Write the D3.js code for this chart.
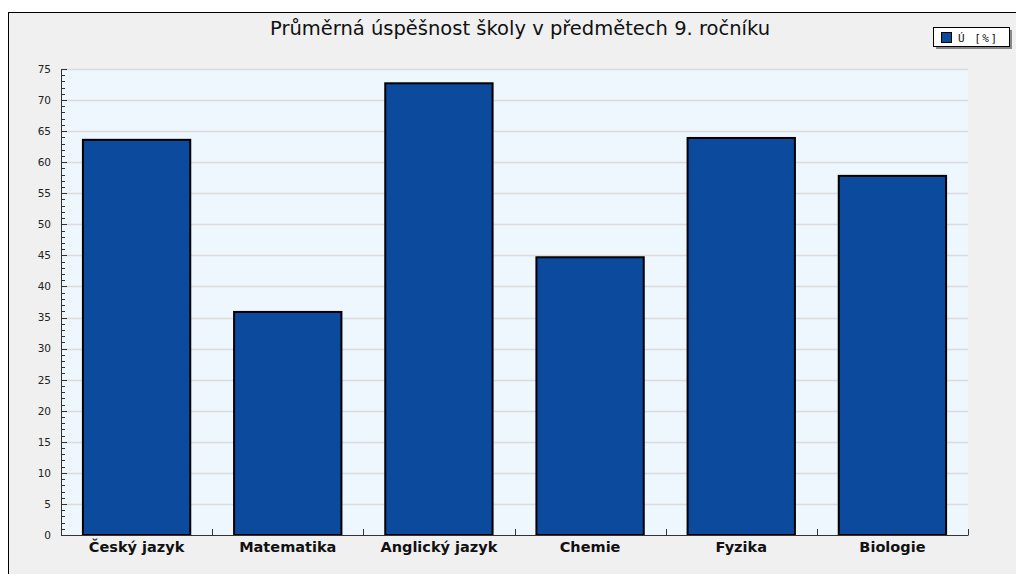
<!DOCTYPE html>
<html lang="cs">
<head>
    <meta charset="UTF-8">
    <title>Průměrná úspěšnost</title>
    <script src="https://d3js.org/d3.v7.min.js"></script>
    <style>
        body { margin: 0; background: #fff; }
    </style>
</head>
<body>
    <svg width="1016" height="574"></svg>
    <script type="text/javascript">

        // data
        var subjects = ["Český jazyk", "Matematika", "Anglický jazyk", "Chemie", "Fyzika", "Biologie"];
        var values = [63.6, 35.9, 72.7, 44.7, 63.9, 57.8];
        var yTicks = [0, 5, 10, 15, 20, 25, 30, 35, 40, 45, 50, 55, 60, 65, 70, 75];
        var seriesName = "Ú [%]";
        var chartTitle = "Průměrná úspěšnost školy v předmětech 9. ročníku";

        var margin = {top: 69, left: 61};
        var width = 907;
        var height = 466;

        var svg = d3.select("svg");

        // outer frame
        svg.append("rect")
            .attr("x", 8.5).attr("y", 12.5)
            .attr("width", 1020).attr("height", 570)
            .attr("fill", "#f0f0f0")
            .attr("stroke", "#000");

        svg.append("text")
            .attr("x", 520).attr("y", 35)
            .attr("text-anchor", "middle")
            .attr("font-family", "DejaVu Sans, Verdana, sans-serif")
            .attr("font-size", "19.5px")
            .attr("fill", "#111")
            .text(chartTitle);

        var g = svg.append("g")
            .attr("transform", "translate(" + margin.left + "," + margin.top + ")");

        var x = d3.scaleBand()
            .domain(subjects)
            .range([0, width])
            .paddingInner(0.29)
            .paddingOuter(0.145);

        var y = d3.scaleLinear()
            .domain([0, 75])
            .range([height, 0]);

        // plot background
        g.append("rect")
            .attr("width", width).attr("height", height)
            .attr("fill", "#eef6fe");

        // grid
        g.selectAll(".grid")
            .data(yTicks.slice(1))
            .enter().append("line")
            .attr("x1", 0).attr("x2", width)
            .attr("y1", function(d) { return Math.round(y(d)) + 0.5; })
            .attr("y2", function(d) { return Math.round(y(d)) + 0.5; })
            .attr("stroke", "#dcdcdc")
            .attr("stroke-width", 1.5);

        // bars
        g.selectAll(".bar")
            .data(values)
            .enter().append("rect")
            .attr("x", function(d, i) { return x(subjects[i]); })
            .attr("width", x.bandwidth())
            .attr("y", function(d) { return y(d); })
            .attr("height", function(d) { return height - y(d); })
            .attr("fill", "#0b4a9c")
            .attr("stroke", "#000")
            .attr("stroke-width", 2);

        // y axis, ticks pointing inside
        var minor = d3.range(0, 76, 1);
        g.selectAll(".minor")
            .data(minor)
            .enter().append("line")
            .attr("x1", 0)
            .attr("x2", function(d) { return d % 5 === 0 ? 6 : 4; })
            .attr("y1", function(d) { return Math.round(y(d)) + 0.5; })
            .attr("y2", function(d) { return Math.round(y(d)) + 0.5; })
            .attr("stroke", "#333");

        var yAxis = g.append("g")
            .call(d3.axisLeft(y).tickValues(yTicks).tickSize(0).tickPadding(10));
        yAxis.select(".domain").attr("stroke", "#333");
        yAxis.selectAll("text")
            .attr("font-family", "DejaVu Sans, Verdana, sans-serif")
            .attr("font-size", "10.5px")
            .attr("fill", "#222");

        // x axis with ticks between categories, pointing up
        var xAxis = g.append("g")
            .attr("transform", "translate(0," + height + ")")
            .call(d3.axisBottom(x).tickSize(0).tickPadding(7));
        xAxis.select(".domain").attr("stroke", "#333");
        xAxis.selectAll("text")
            .attr("font-family", "DejaVu Sans, Verdana, sans-serif")
            .attr("font-size", "14.5px")
            .attr("font-weight", "bold")
            .attr("fill", "#111");

        var step = x.step();
        g.selectAll(".xtick")
            .data(d3.range(1, subjects.length + 1))
            .enter().append("line")
            .attr("x1", function(d) { return Math.round(d * step) + 0.5; })
            .attr("x2", function(d) { return Math.round(d * step) + 0.5; })
            .attr("y1", height)
            .attr("y2", height - 6)
            .attr("stroke", "#333");

        // legend
        var lg = svg.append("g").attr("transform", "translate(933,27)");
        lg.append("rect")
            .attr("x", 3).attr("y", 3).attr("width", 76).attr("height", 19)
            .attr("fill", "#888");
        lg.append("rect")
            .attr("x", 0.5).attr("y", 0.5).attr("width", 76).attr("height", 19)
            .attr("fill", "#fff").attr("stroke", "#000");
        lg.append("rect")
            .attr("x", 8.5).attr("y", 5.5).attr("width", 10).attr("height", 10)
            .attr("fill", "#0b4a9c").attr("stroke", "#000");
        lg.append("text")
            .attr("x", 25).attr("y", 14.5)
            .attr("font-family", "DejaVu Sans Mono, monospace")
            .attr("font-size", "11px")
            .attr("letter-spacing", "1.5px")
            .attr("fill", "#111")
            .text(seriesName);
    </script>
</body>
</html>
